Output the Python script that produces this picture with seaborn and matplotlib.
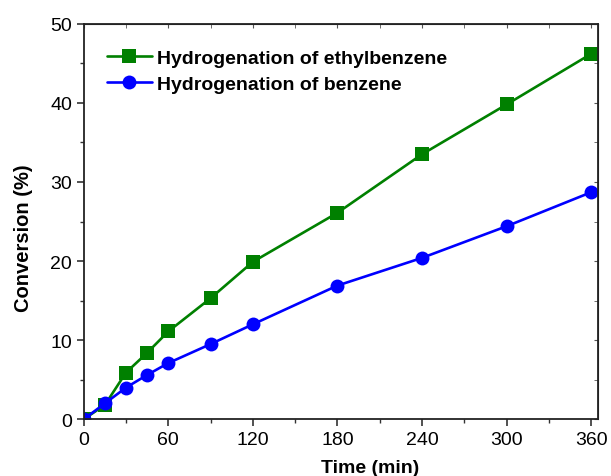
import matplotlib
matplotlib.use("Agg")
import matplotlib.pyplot as plt
import seaborn as sns
import pandas as pd
from matplotlib.ticker import MultipleLocator

sns.set_style("ticks")
plt.rcParams["font.family"] = ["Liberation Sans", "DejaVu Sans"]
plt.rcParams["text.color"] = "black"
plt.rcParams["axes.labelcolor"] = "black"
plt.rcParams["xtick.color"] = "#333333"
plt.rcParams["ytick.color"] = "#333333"
plt.rcParams["xtick.labelcolor"] = "black"
plt.rcParams["ytick.labelcolor"] = "black"

time_min = [0, 15, 30, 45, 60, 90, 120, 180, 240, 300, 360]
ethylbenzene = [0, 1.8, 5.9, 8.4, 11.1, 15.3, 19.9, 26.1, 33.5, 39.8, 46.2]
benzene = [0, 2.0, 4.0, 5.6, 7.1, 9.5, 12.0, 16.9, 20.4, 24.4, 28.7]

label_eb = "Hydrogenation of ethylbenzene"
label_bz = "Hydrogenation of benzene"

df = pd.DataFrame({
    "Time (min)": time_min * 2,
    "Conversion (%)": ethylbenzene + benzene,
    "series": [label_eb] * len(time_min) + [label_bz] * len(time_min),
})

fig = plt.figure(figsize=(6.11, 4.77), dpi=100)
ax = fig.add_axes([0.137, 0.119, 0.842, 0.829])

sns.lineplot(
    data=df, x="Time (min)", y="Conversion (%)", hue="series", style="series",
    palette={label_eb: "#008000", label_bz: "#0000FF"},
    markers={label_eb: "s", label_bz: "o"}, dashes=False,
    markersize=10, markeredgewidth=0, linewidth=1.9, ax=ax, legend=True,
)

ax.set_xlim(0, 365)
ax.set_ylim(0, 50)
ax.xaxis.set_major_locator(MultipleLocator(60))
ax.xaxis.set_minor_locator(MultipleLocator(30))
ax.yaxis.set_major_locator(MultipleLocator(10))
ax.yaxis.set_minor_locator(MultipleLocator(5))
ax.tick_params(which="major", direction="out", length=5, width=1.2, labelsize=14)
ax.tick_params(which="minor", direction="out", length=3, width=1.0)

for side in ["top", "right", "bottom", "left"]:
    ax.spines[side].set_visible(True)
    ax.spines[side].set_linewidth(1.3)
    ax.spines[side].set_color("#222222")

# Inward ticks on the top and right frame
top = ax.secondary_xaxis("top")
top.xaxis.set_major_locator(MultipleLocator(60))
top.xaxis.set_minor_locator(MultipleLocator(30))
top.tick_params(which="both", direction="in", labeltop=False, length=3, color="#555555")
right = ax.secondary_yaxis("right")
right.yaxis.set_major_locator(MultipleLocator(10))
right.yaxis.set_minor_locator(MultipleLocator(5))
right.tick_params(which="both", direction="in", labelright=False, length=3, color="#555555")

ax.set_xlabel("Time (min)", fontsize=14, fontweight="bold")
ax.set_ylabel("Conversion (%)", fontsize=14.5, fontweight="bold")
ax.xaxis.set_label_coords(0.556, -0.100)
ax.yaxis.set_label_coords(-0.098, 0.46)

leg = ax.legend(loc="upper left", bbox_to_anchor=(0.045, 0.935), frameon=False,
                borderpad=0, borderaxespad=0,
                prop={"weight": "bold", "size": 14}, handlelength=2.3,
                handletextpad=0.3, labelspacing=0.4)

fig.savefig("out.png", dpi=100)
